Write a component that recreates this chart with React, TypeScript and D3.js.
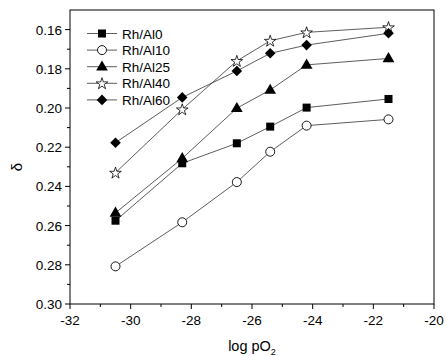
import React from "react";
import * as d3 from "d3";

const xValues = [-30.5, -28.3, -26.5, -25.4, -24.2, -21.5];
const seriesNames = ["Rh/Al0", "Rh/Al10", "Rh/Al25", "Rh/Al40", "Rh/Al60"];
const rhAl0 = [0.2575, 0.2282, 0.218, 0.2095, 0.1998, 0.1954];
const rhAl10 = [0.2808, 0.2583, 0.2378, 0.2223, 0.209, 0.2058];
const rhAl25 = [0.2535, 0.2257, 0.2001, 0.1908, 0.178, 0.1747];
const rhAl40 = [0.233, 0.2007, 0.176, 0.1657, 0.1614, 0.1588];
const rhAl60 = [0.2177, 0.1946, 0.1811, 0.1721, 0.1679, 0.1619];
const seriesValues = [rhAl0, rhAl10, rhAl25, rhAl40, rhAl60];
const markerTypes = ["square", "circle", "triangle", "star", "diamond"];
const xTicks = [-32, -30, -28, -26, -24, -22, -20];
const yTicks = [0.16, 0.18, 0.2, 0.22, 0.24, 0.26, 0.28, 0.3];

const W = 446, H = 356;
const M = { left: 70, top: 10, right: 434, bottom: 304 };

function Marker({ type, x, y }: { type: string; x: number; y: number }) {
  const stroke = "#000";
  if (type === "square") return <rect x={x - 4} y={y - 4} width={8} height={8} fill="#000" />;
  if (type === "circle") return <circle cx={x} cy={y} r={4.5} fill="#fff" stroke={stroke} strokeWidth={0.9} />;
  if (type === "triangle") {
    const p = d3.symbol(d3.symbolTriangle, 60)();
    return <path d={p || ""} transform={`translate(${x},${y + 0.5})`} fill="#000" />;
  }
  if (type === "diamond") {
    const s = 5.3;
    return <path d={`M${x},${y - s}L${x + s},${y}L${x},${y + s}L${x - s},${y}Z`} fill="#000" />;
  }
  const p = d3.symbol(d3.symbolStar, 42)();
  return <path d={p || ""} transform={`translate(${x},${y + 0.5})`} fill="#fff" stroke={stroke} strokeWidth={0.8} />;
}

export default function App() {
  const x = d3.scaleLinear().domain([-32, -20]).range([M.left, M.right]);
  const y = d3.scaleLinear().domain([0.15, 0.3]).range([M.top, M.bottom]);
  const line = d3.line<[number, number]>().x(d => x(d[0])).y(d => y(d[1]));
  const xMinor = d3.range(-31, -20, 2);
  const yMinor = d3.range(0.17, 0.3, 0.02);
  const font = "Liberation Sans, Arial, sans-serif";
  const legendY0 = 33.5, legendDy = 16.6;

  return (
    <svg width={W} height={H} style={{ position: "absolute", left: 0, top: 0, background: "#fff" }}>
      <rect x={M.left} y={M.top} width={M.right - M.left} height={M.bottom - M.top} fill="none" stroke="#000" strokeWidth={1} />
      {xTicks.map(t => (
        <g key={"xt" + t}>
          <line x1={x(t)} x2={x(t)} y1={M.bottom} y2={M.bottom + 5} stroke="#000" />
          <text x={x(t)} y={M.bottom + 21} textAnchor="middle" fontFamily={font} fontSize={13.5}>{t}</text>
        </g>
      ))}
      {xMinor.map(t => (
        <line key={"xm" + t} x1={x(t)} x2={x(t)} y1={M.bottom} y2={M.bottom + 3} stroke="#000" />
      ))}
      {yTicks.map(t => (
        <g key={"yt" + t}>
          <line x1={M.left - 5} x2={M.left} y1={y(t)} y2={y(t)} stroke="#000" />
          <text x={M.left - 8} y={y(t) + 5} textAnchor="end" fontFamily={font} fontSize={13.5}>{t.toFixed(2)}</text>
        </g>
      ))}
      {yMinor.map(t => (
        <line key={"ym" + t} x1={M.left - 3} x2={M.left} y1={y(t)} y2={y(t)} stroke="#000" />
      ))}
      <text x={(M.left + M.right) / 2} y={351} textAnchor="middle" fontFamily={font} fontSize={14.5}>
        log pO<tspan dy={4} fontSize={9}>2</tspan>
      </text>
      <text transform={`translate(22,167) rotate(-90)`} textAnchor="middle" fontFamily={font} fontSize={15}>δ</text>
      {seriesValues.map((vals, i) => (
        <path key={"l" + i} d={line(xValues.map((v, j) => [v, vals[j]] as [number, number])) || ""} fill="none" stroke="#333" strokeWidth={0.8} />
      ))}
      {seriesValues.map((vals, i) =>
        vals.map((v, j) => <Marker key={`m${i}-${j}`} type={markerTypes[i]} x={x(xValues[j])} y={y(v)} />)
      )}
      {seriesNames.map((name, i) => {
        const ly = legendY0 + i * legendDy;
        return (
          <g key={"lg" + i}>
            <line x1={87} x2={117} y1={ly} y2={ly} stroke="#333" strokeWidth={0.8} />
            <Marker type={markerTypes[i]} x={102} y={ly} />
            <text x={122} y={ly + 5} fontFamily={font} fontSize={13.5}>{name}</text>
          </g>
        );
      })}
    </svg>
  );
}
